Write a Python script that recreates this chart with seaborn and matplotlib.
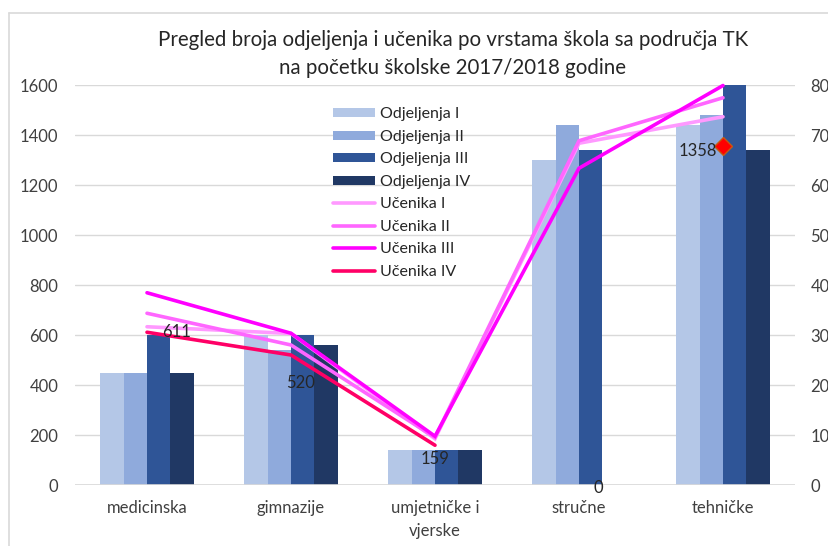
"""Pregled broja odjeljenja i učenika po vrstama škola (TK, 2017/2018)."""

import matplotlib

matplotlib.use("Agg")
import matplotlib.pyplot as plt
import numpy as np
import pandas as pd
import seaborn as sns
from matplotlib.lines import Line2D

sns.set_theme(style="white")
plt.rcParams["font.family"] = ["Lato", "DejaVu Sans"]

kategorije = ["medicinska", "gimnazije", "umjetničke i\nvjerske", "stručne", "tehničke"]

# broj odjeljenja (desna os)
odjeljenja_I = [22.5, 30, 7, 65, 72]
odjeljenja_II = [22.5, 27, 7, 72, 74]
odjeljenja_III = [30, 30, 7, 67, 80]
odjeljenja_IV = [22.5, 28, 7, 0, 67]

# broj učenika (lijeva os)
ucenika_I = [633, 606, 185, 1367, 1473]
ucenika_II = [687, 560, 190, 1377, 1549]
ucenika_III = [769, 607, 195, 1267, 1598]
ucenika_IV = [611, 520, 159, np.nan, 1358]
ucenika_IV_oznake = ["611", "520", "159", "0", "1358"]

serije_odj = ["Odjeljenja I", "Odjeljenja II", "Odjeljenja III", "Odjeljenja IV"]
serije_uc = ["Učenika I", "Učenika II", "Učenika III", "Učenika IV"]
boje_odj = ["#B4C7E7", "#8FAADC", "#2F5597", "#203864"]
boje_uc = ["#FF99FF", "#FF66FF", "#FF00FF", "#FF0066"]

odj = pd.DataFrame(
    {"kategorija": kategorije, "Odjeljenja I": odjeljenja_I, "Odjeljenja II": odjeljenja_II,
     "Odjeljenja III": odjeljenja_III, "Odjeljenja IV": odjeljenja_IV}
).melt(id_vars="kategorija", var_name="serija", value_name="broj")

fig = plt.figure(figsize=(8.29, 5.46), dpi=100)
ax = fig.add_axes([75 / 829, 1 - 485 / 546, 720 / 829, 400 / 546])
ax2 = ax.twinx()

# stupci na desnoj osi
sns.barplot(data=odj, x="kategorija", y="broj", hue="serija", hue_order=serije_odj,
            palette=boje_odj, saturation=1, width=0.65, gap=0, linewidth=0, ax=ax2)
h_odj, l_odj = ax2.get_legend_handles_labels()
ax2.get_legend().remove()
ax2.set_ylim(0, 80)
ax2.set_yticks(range(0, 81, 10))
ax2.grid(axis="y", color="#D9D9D9", linewidth=1)
ax2.set_axisbelow(True)
ax2.set_xlabel("")
ax2.set_ylabel("")

# linije na lijevoj osi, iznad stupaca
ax.set_zorder(ax2.get_zorder() + 1)
ax.patch.set_visible(False)
x = np.arange(len(kategorije))
h_uc = []
for naziv, vrij, boja in zip(serije_uc, [ucenika_I, ucenika_II, ucenika_III, ucenika_IV], boje_uc):
    ax.plot(x, vrij, color=boja, linewidth=2.6, solid_joinstyle="miter", clip_on=False)
    h_uc.append(Line2D([], [], color=boja, linewidth=2.6))
ax.plot(x[4], ucenika_IV[4], marker="D", markersize=9, color="#FF0000",
        markeredgecolor="#C55A11", markeredgewidth=1, linestyle="none", clip_on=False)

ax.set_xlim(-0.5, len(kategorije) - 0.5)
ax.set_ylim(0, 1600)
ax.set_yticks(range(0, 1601, 200))
ax.set_xticks(x)
ax.set_xticklabels(kategorije, linespacing=1.5)
ax.grid(False)

# oznake podataka
pomaci = [(11, 0, "left"), (7, -20, "center"), (0, -10, "center"), (14, -2, "center"), (-4, -4, "right")]
for i, (tekst, (dx, dy, ha)) in enumerate(zip(ucenika_IV_oznake, pomaci)):
    yv = ucenika_IV[i] if not np.isnan(ucenika_IV[i]) else 0
    ax.annotate(tekst, (i, yv), xytext=(dx, dy), textcoords="offset points",
                ha=ha, va="center", fontsize=12, color="#262626")

for a in (ax, ax2):
    for s in a.spines.values():
        s.set_visible(False)
    a.tick_params(length=0, labelsize=12, colors="#404040")
ax.tick_params(axis="y", pad=12)
ax2.tick_params(axis="y", pad=11)
ax.tick_params(axis="x", pad=11)
ax2.tick_params(axis="x", labelbottom=False)
ax.axhline(0, color="#D9D9D9", linewidth=1.2, zorder=0)

leg = ax.legend(h_odj + h_uc, l_odj + serije_uc, loc="upper left",
                bbox_to_anchor=(0.35, 0.96), frameon=False, fontsize=11.5,
                handlelength=2.6, handleheight=0.5, labelspacing=0.53,
                handletextpad=0.3, borderaxespad=0)
for t in leg.get_texts():
    t.set_color("#262626")

fig.text(453 / 829, 1 - 54 / 546,
         "Pregled broja odjeljenja i učenika po vrstama škola sa područja TK\n"
         "na početku školske 2017/2018 godine",
         ha="center", va="center", fontsize=14.8, color="#262626", linespacing=1.5)

# okvir grafikona
fig.add_artist(Line2D([9 / 829, 9 / 829], [0, 1 - 13 / 546], color="#D9D9D9", linewidth=1.2))
fig.add_artist(Line2D([9 / 829, 1], [1 - 13 / 546, 1 - 13 / 546], color="#D9D9D9", linewidth=1.2))

fig.savefig("out.png", dpi=100)
